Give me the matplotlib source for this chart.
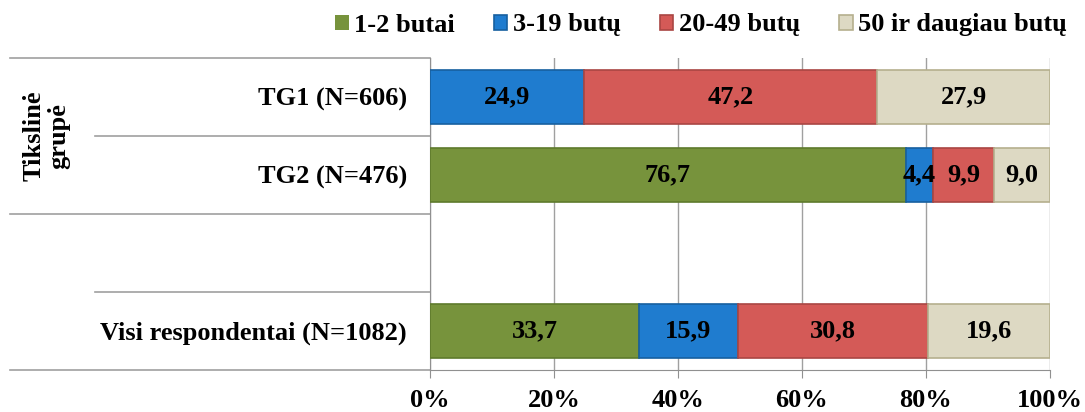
import matplotlib.pyplot as plt

# Data
groups = ['TG1 (N=606)', 'TG2 (N=476)', '', 'Visi respondentai (N=1082)']
series = ['1-2 butai', '3-19 butų', '20-49 butų', '50 ir daugiau butų']
v_12 = [0.0, 76.7, 0.0, 33.7]
v_319 = [24.9, 4.4, 0.0, 15.9]
v_2049 = [47.2, 9.9, 0.0, 30.8]
v_50 = [27.9, 9.0, 0.0, 19.6]
values = [v_12, v_319, v_2049, v_50]
xticks = [0, 20, 40, 60, 80, 100]

colors = ['#77933C', '#1F7CCF', '#D45A57', '#DDD9C3']
edges = ['#5E7A2C', '#17609F', '#A94643', '#B5AF8E']

plt.rcParams['font.family'] = ['Liberation Serif', 'DejaVu Serif']
plt.rcParams['font.weight'] = 'bold'
FS = 19

fig = plt.figure(figsize=(10.85, 4.12), dpi=100)
W, H = 1085, 412
ax = fig.add_axes([430 / W, 1 - 370 / H, 620 / W, 312 / H])

y = list(range(len(groups)))
left = [0.0] * len(groups)
for vals, name, c, ec in zip(values, series, colors, edges):
    bars = ax.barh(y, vals, left=left, height=0.7, color=c, edgecolor=ec,
                   linewidth=[1.2 if v > 0 else 0 for v in vals], label=name, zorder=3)
    for b, v in zip(bars, vals):
        if v > 0:
            ax.text(b.get_x() + b.get_width() / 2, b.get_y() + b.get_height() / 2,
                    ('%.1f' % v).replace('.', ','), ha='center', va='center',
                    fontsize=FS, fontweight='bold', zorder=4)
    left = [l + v for l, v in zip(left, vals)]

ax.set_xlim(0, 100)
ax.set_ylim(3.5, -0.5)
ax.set_xticks(xticks)
ax.set_xticklabels(['%d%%' % t for t in xticks], fontsize=FS, fontweight='bold')
ax.set_yticks(y)
ax.set_yticklabels(groups, fontsize=FS, fontweight='bold')
ax.tick_params(axis='y', length=0, pad=16.5)
ax.tick_params(axis='x', length=6, color='#909090', pad=7.5)
ax.xaxis.grid(True, color='#A0A0A0', linewidth=1, zorder=0)
for s in ['top', 'right']:
    ax.spines[s].set_visible(False)
ax.spines['left'].set_color('#909090')
ax.spines['bottom'].set_color('#909090')

# category separator lines in the label area
tr = ax.get_yaxis_transform()
x_far = (10 - 430) / 620
x_near = (95 - 430) / 620
for yy, x0 in [(-0.5, x_far), (0.5, x_near), (1.5, x_far), (2.5, x_near), (3.5, x_far)]:
    ax.plot([x0, 0], [yy, yy], color='#A0A0A0', linewidth=1.2, transform=tr, clip_on=False)

fig.text(46 / W, 1 - 136 / H, 'Tikslinė\ngrupė', rotation=90, ha='center', va='center',
         fontsize=FS, fontweight='bold', linespacing=1.1)

fig.legend(loc='center', bbox_to_anchor=(701 / W, 1 - 25 / H), ncol=4, frameon=False,
           prop={'family': ['Liberation Serif', 'DejaVu Serif'], 'size': FS, 'weight': 'bold'},
           handlelength=0.5, handleheight=0.5, handletextpad=0.2, columnspacing=1.5)

fig.savefig('out.png', dpi=100)
